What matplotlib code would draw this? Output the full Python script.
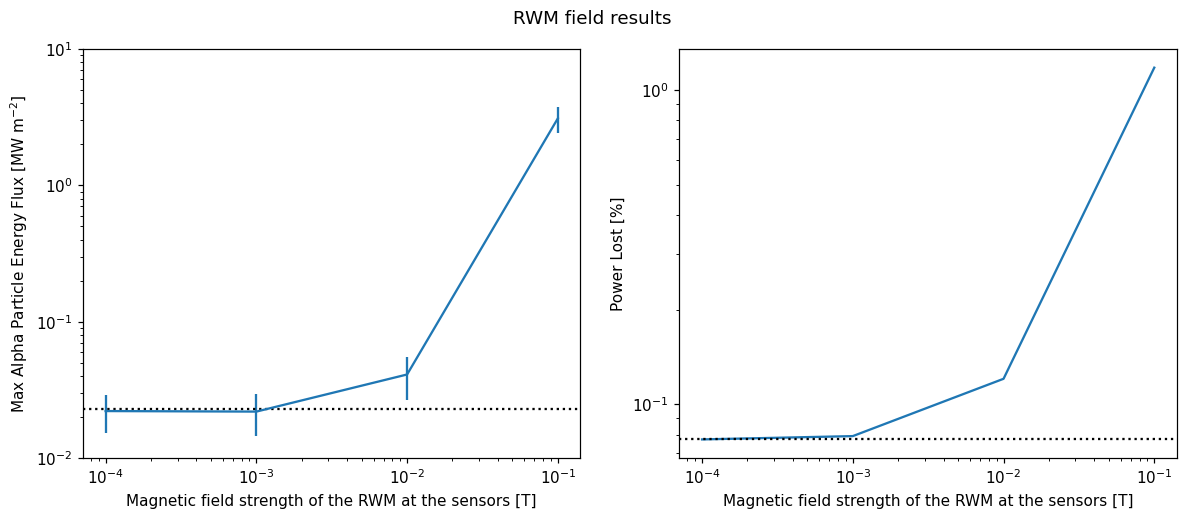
import matplotlib
matplotlib.use("Agg")
import matplotlib.pyplot as plt

field = [1e-4, 1e-3, 1e-2, 1e-1]
max_flux = [0.0221, 0.0219, 0.041, 3.10]
max_flux_err = [0.0068, 0.0075, 0.0145, 0.67]
flux_baseline = 0.0230
power_lost = [0.0772, 0.0791, 0.1204, 1.178]
power_baseline = 0.0772

DPI = 110
fig, (ax1, ax2) = plt.subplots(1, 2, figsize=(1184 / DPI, 511 / DPI), dpi=DPI)
fig.subplots_adjust(left=0.0701, right=0.994, top=0.904, bottom=0.1037, wspace=0.199)
fig.suptitle("RWM field results")

ax1.errorbar(field, max_flux, yerr=max_flux_err, color="C0")
ax1.axhline(flux_baseline, color="black", linestyle=":")
ax1.set_xscale("log")
ax1.set_yscale("log")
ax1.set_ylim(1e-2, 1e1)
ax1.set_xlabel("Magnetic field strength of the RWM at the sensors [T]")
ax1.set_ylabel(r"Max Alpha Particle Energy Flux [MW m$^{-2}$]")

ax2.plot(field, power_lost, color="C0")
ax2.axhline(power_baseline, color="black", linestyle=":")
ax2.set_xscale("log")
ax2.set_yscale("log")
ax2.set_xlabel("Magnetic field strength of the RWM at the sensors [T]")
ax2.set_ylabel("Power Lost [%]")

fig.savefig("out.png", dpi=DPI)
